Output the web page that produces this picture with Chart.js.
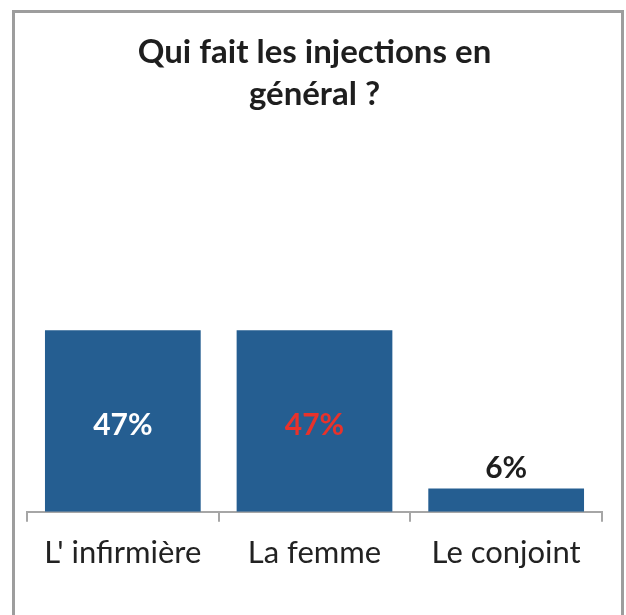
<!DOCTYPE html>
<html>
<head>
<meta charset="utf-8">
<script src="https://cdn.jsdelivr.net/npm/chart.js@4/dist/chart.umd.min.js"></script>
<style>
  html, body { margin: 0; padding: 0; background: #fff; overflow: hidden; }
  #frame { position: absolute; left: 12px; top: 10px; width: 606px; height: 640px; border: 3px solid #9d9d9d; }
  #wrap { position: absolute; left: 0; top: 0; width: 626px; height: 615px; }
</style>
</head>
<body>
<div id="frame"></div>
<div id="wrap"><canvas id="c" width="626" height="615"></canvas></div>
<script>
const categories = ["L' infirmière", "La femme", "Le conjoint"];
const values = [47, 47, 6];
const valueLabels = ["47%", "47%", "6%"];
const titleLines = ["Qui fait les injections en", "général ?"];

const labelPlugin = {
  id: 'valueLabels',
  afterDatasetsDraw(chart) {
    const ctx = chart.ctx;
    const meta = chart.getDatasetMeta(0);
    const colors = ['#ffffff', '#e8322b', '#1e1e1e'];
    ctx.save();
    ctx.font = 'bold 30px Lato';
    ctx.textAlign = 'center';
    meta.data.forEach((bar, i) => {
      const h = bar.base - bar.y;
      ctx.fillStyle = colors[i];
      if (h > 60) {
        ctx.textBaseline = 'middle';
        ctx.fillText(valueLabels[i], bar.x, (bar.y + bar.base) / 2 + 4);
      } else {
        ctx.textBaseline = 'alphabetic';
        ctx.fillText(valueLabels[i], bar.x, bar.y - 11);
      }
    });
    ctx.restore();
  }
};

new Chart(document.getElementById('c'), {
  type: 'bar',
  data: {
    labels: categories,
    datasets: [{
      data: values,
      backgroundColor: '#255e91',
      barPercentage: 0.8125,
      categoryPercentage: 1
    }]
  },
  options: {
    responsive: false,
    animation: false,
    layout: { padding: { left: 27, right: 24, top: 0, bottom: 30 } },
    plugins: {
      legend: { display: false },
      tooltip: { enabled: false },
      title: {
        display: true,
        text: titleLines,
        color: '#1e1e1e',
        font: { family: 'Lato', size: 33, weight: 'bold', lineHeight: 1.28 },
        padding: { top: 31, bottom: 10 }
      }
    },
    scales: {
      x: {
        grid: { display: true, drawOnChartArea: false, drawTicks: true, tickLength: 10, color: '#a6a6a6', lineWidth: 2, offset: true },
        border: { display: true, color: '#a6a6a6', width: 2 },
        ticks: { color: '#222222', font: { family: 'Lato', size: 31 }, padding: 13, maxRotation: 0, autoSkip: false }
      },
      y: {
        display: false,
        min: 0,
        max: 100
      }
    }
  },
  plugins: [labelPlugin]
});
</script>
</body>
</html>
